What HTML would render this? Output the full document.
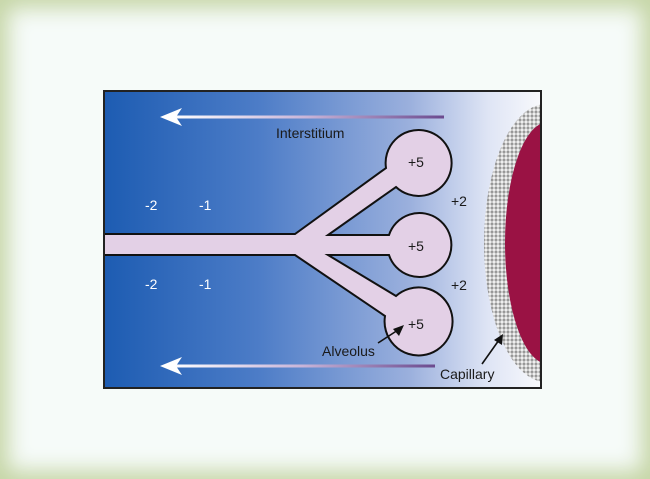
<!DOCTYPE html>
<html><head><meta charset="utf-8"><style>
html,body{margin:0;padding:0;}
body{width:650px;height:479px;overflow:hidden;background:#f6fbf9;position:relative;}
#fr{position:absolute;left:0;top:0;width:650px;height:479px;box-shadow:inset 0 0 22px 8px #c5d5a5;z-index:2;pointer-events:none;}
svg{position:absolute;left:0;top:0;}
</style></head><body>
<div id="fr"></div>
<svg width="650" height="479" viewBox="0 0 650 479" xmlns="http://www.w3.org/2000/svg" font-family="Liberation Sans, Arial, sans-serif">
<defs>
<linearGradient id="bg" x1="0" x2="1" y1="0" y2="0">
<stop offset="0" stop-color="#1d5cb2"/>
<stop offset="0.35" stop-color="#4c7cc7"/>
<stop offset="0.7" stop-color="#9bb0dd"/>
<stop offset="0.88" stop-color="#dfe5f5"/>
<stop offset="1" stop-color="#f8f9fc"/>
</linearGradient>
<linearGradient id="ar" x1="0" x2="1">
<stop offset="0" stop-color="#ffffff"/>
<stop offset="0.5" stop-color="#c8b4d8"/>
<stop offset="1" stop-color="#6b4a8e"/>
</linearGradient>
<pattern id="dots" width="4" height="4" patternUnits="userSpaceOnUse">
<rect width="4" height="4" fill="#8a8a8a"/>
<circle cx="2" cy="2" r="1.7" fill="#efefef"/>
</pattern>
<clipPath id="box"><rect x="104" y="91" width="437" height="297"/></clipPath>
</defs>
<rect x="104" y="91" width="437" height="297" fill="url(#bg)"/>
<g clip-path="url(#box)">
<ellipse cx="546" cy="243" rx="62" ry="139" fill="url(#dots)"/>
<ellipse cx="548" cy="243" rx="43" ry="121" fill="#9a1244"/>
</g>
<rect x="170" y="115.5" width="274" height="3" fill="url(#ar)"/>
<path d="M160 117 L182 108 L176 117 L182 126 Z" fill="#fff"/>
<rect x="170" y="364.5" width="265" height="3" fill="url(#ar)"/>
<path d="M160 366 L182 357 L176 366 L182 375 Z" fill="#fff"/>
<path d="M104 234 L295 234 L386 168 A33 33 0 1 1 396 187 L328 235 L389 235 A32 32 0 1 1 389 255 L328 255 L396 296 A34 34 0 1 1 385 316 L295 255 L104 255"
 fill="#e3d0e6" stroke="#111" stroke-width="2" stroke-linejoin="miter"/>
<rect x="104" y="91" width="437" height="297" fill="none" stroke="#222" stroke-width="2"/>
<g font-size="14" fill="#fff">
<text x="145" y="210">-2</text><text x="199" y="210">-1</text>
<text x="145" y="289">-2</text><text x="199" y="289">-1</text>
</g>
<g font-size="14" fill="#1a1a1a">
<text x="276" y="138">Interstitium</text>
<text x="408" y="167">+5</text>
<text x="408" y="251">+5</text>
<text x="408" y="329">+5</text>
<text x="451" y="206">+2</text>
<text x="451" y="290">+2</text>
<text x="322" y="356">Alveolus</text>
<text x="440" y="379">Capillary</text>
</g>
<line x1="378" y1="343" x2="398" y2="330" stroke="#111" stroke-width="1.6"/>
<path d="M404 325 L393 329 L399 336 Z" fill="#111"/>
<line x1="482" y1="364" x2="499" y2="340" stroke="#111" stroke-width="1.6"/>
<path d="M503 334 L494 340 L502 345 Z" fill="#111"/>
</svg>
</body></html>
